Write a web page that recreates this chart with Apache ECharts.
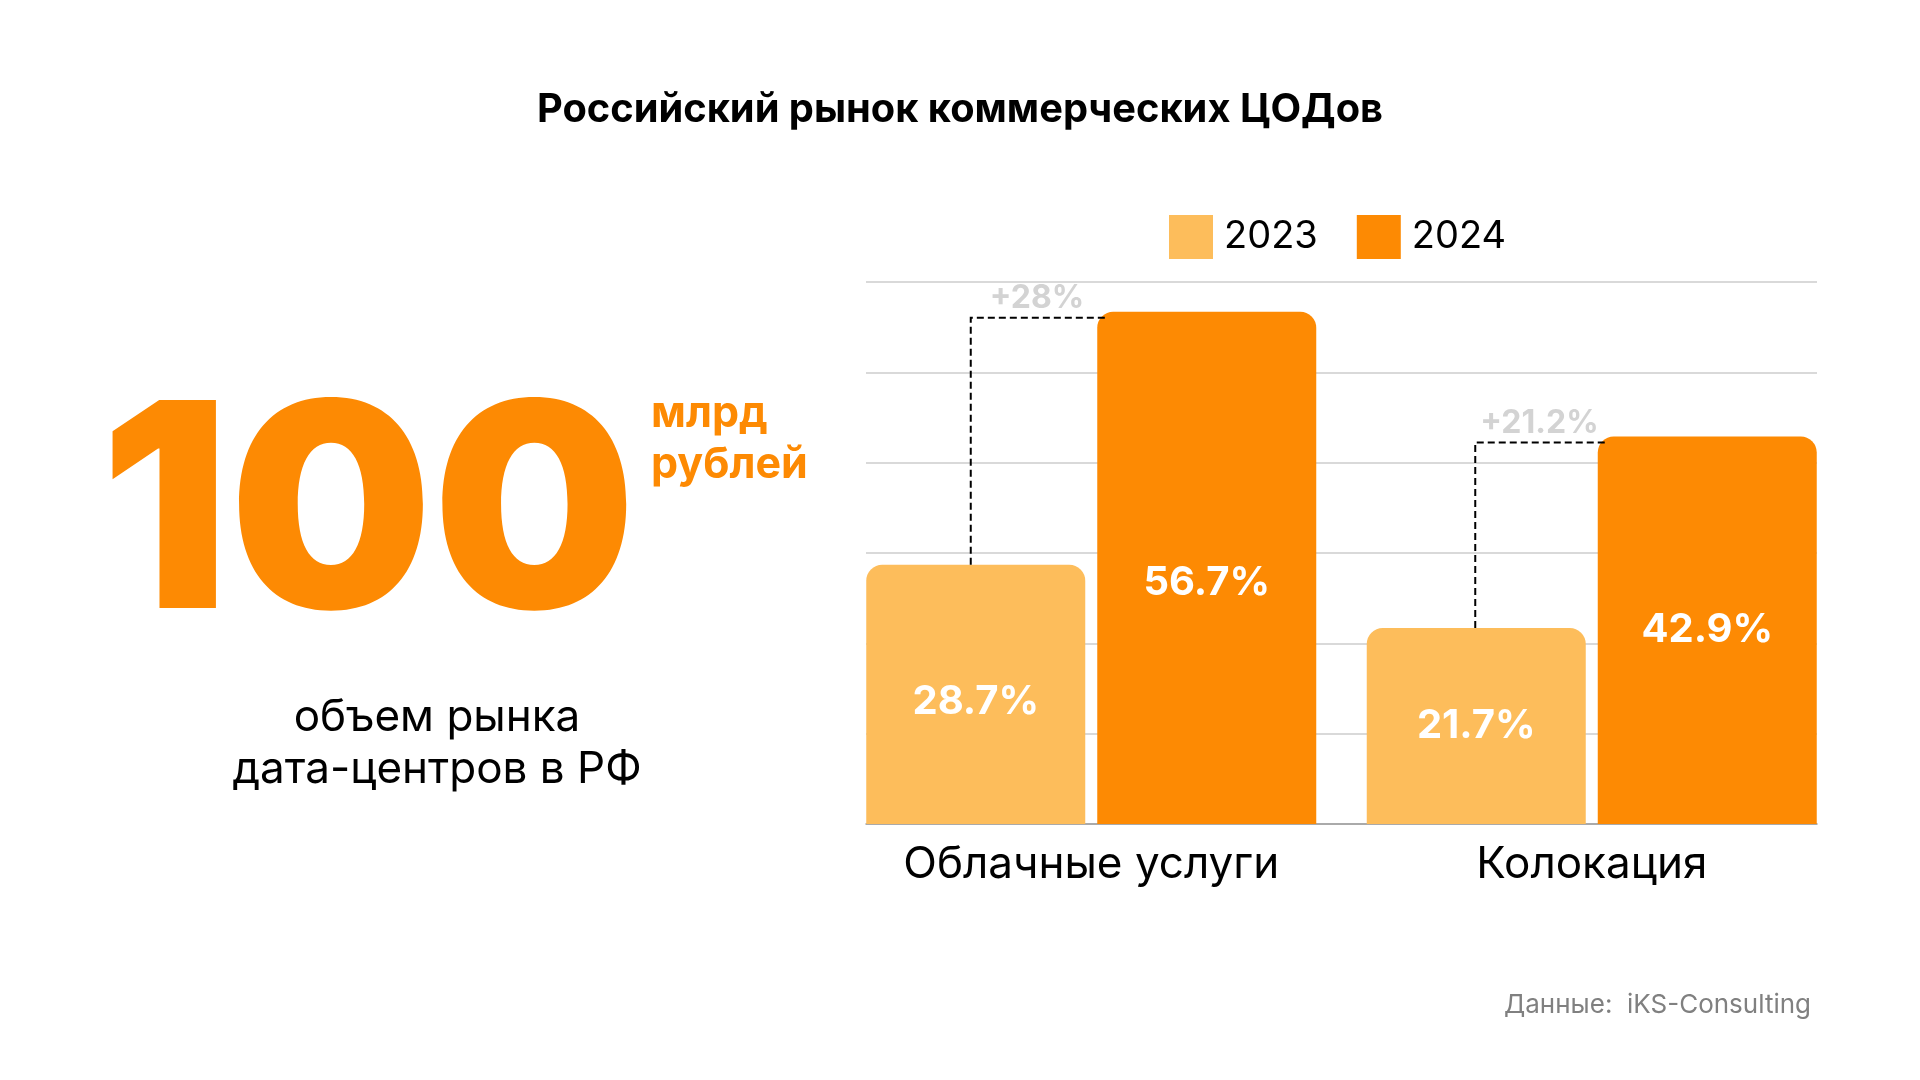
<!DOCTYPE html>
<html>
<head>
<meta charset="utf-8">
<script src="https://cdn.jsdelivr.net/npm/echarts@6/dist/echarts.min.js"></script>
<style>
html,body{margin:0;padding:0;background:#fff;}
#chart{width:1920px;height:1080px;}
</style>
</head>
<body>
<div id="chart"></div>
<script>
// ---- data ----
const categories = ['Облачные услуги', 'Колокация'];
const seriesNames = ['2023', '2024'];
const values2023 = [28.7, 21.7];
const values2024 = [56.7, 42.9];
const growthLabels = ['+28%', '+21.2%'];
const yMin = 0, yMax = 60, yInterval = 10;
const titleText = 'Российский рынок коммерческих ЦОДов';
const bigNumber = '100';
const bigUnitLines = ['млрд', 'рублей'];
const captionLines = ['объем рынка', 'дата-центров в РФ'];
const sourceText = 'Данные:  iKS-Consulting';

// ---- style ----
const FONT = 'Inter, "Noto Sans", sans-serif';
const C2023 = '#FDBD5B';
const C2024 = '#FD8A03';
const BAR_W = 219, BAR_GAP = 12;
const labelPosY = ['53%', '50%'];        // vertical label placement per category (style)
const connectorShiftX = [-5, -1];        // small horizontal shift of connector per category (style)

const chart = echarts.init(document.getElementById('chart'), null, {renderer: 'canvas'});

const connectorData = categories.map((c, i) => [i, values2023[i], values2024[i]]);

function barData(values) {
  return values.map((v, i) => ({
    value: v,
    label: {position: ['50%', labelPosY[i]], align: 'center', verticalAlign: 'middle'}
  }));
}

const labelStyle = {show: true, formatter: '{c}%', color: '#fff',
  fontFamily: FONT, fontSize: 40, fontWeight: 'bold'};

const option = {
  backgroundColor: '#ffffff',
  animation: false,
  title: {
    text: titleText,
    left: 'center',
    top: 85,
    textStyle: {fontFamily: FONT, fontSize: 39.8, fontWeight: 'bold', color: '#000'}
  },
  legend: {
    left: 1164,
    top: 210,
    itemWidth: 44,
    itemHeight: 44,
    itemGap: 39,
    icon: 'rect',
    data: seriesNames,
    textStyle: {fontFamily: FONT, fontSize: 38, color: '#000', padding: [0, 0, 0, 6]}
  },
  grid: [
    {left: 841, right: 78, top: 282, bottom: 256},
    {left: 866, right: 103, top: 282, bottom: 256}
  ],
  xAxis: [
    {
      type: 'category', gridIndex: 0, data: categories,
      axisLine: {show: false}, axisTick: {show: false},
      axisLabel: {fontFamily: FONT, fontSize: 44, color: '#000', margin: 19}
    },
    {
      type: 'category', gridIndex: 1, data: categories,
      axisLine: {show: true, lineStyle: {color: '#9a9a9a', width: 1.5}},
      axisTick: {show: false}, axisLabel: {show: false}
    }
  ],
  yAxis: [
    {
      type: 'value', gridIndex: 0, min: yMin, max: yMax, interval: yInterval,
      axisLine: {show: false}, axisTick: {show: false}, axisLabel: {show: false},
      splitLine: {show: false}
    },
    {
      type: 'value', gridIndex: 1, min: yMin, max: yMax, interval: yInterval,
      axisLine: {show: false}, axisTick: {show: false}, axisLabel: {show: false},
      splitLine: {show: true, lineStyle: {color: '#cccccc', width: 1.5}}
    }
  ],
  series: [
    {
      name: seriesNames[0], type: 'bar', xAxisIndex: 0, yAxisIndex: 0,
      data: barData(values2023), barWidth: BAR_W, barGap: (BAR_GAP / BAR_W * 100) + '%',
      itemStyle: {color: C2023, borderRadius: [16, 16, 0, 0]},
      label: labelStyle
    },
    {
      name: seriesNames[1], type: 'bar', xAxisIndex: 0, yAxisIndex: 0,
      data: barData(values2024), barWidth: BAR_W, barGap: (BAR_GAP / BAR_W * 100) + '%',
      itemStyle: {color: C2024, borderRadius: [16, 16, 0, 0]},
      label: labelStyle
    },
    {
      type: 'custom', xAxisIndex: 0, yAxisIndex: 0, z: 5,
      data: connectorData,
      silent: true,
      renderItem: function (params, api) {
        const idx = api.value(0);
        const cx = api.coord([idx, 0])[0];
        const yA = api.coord([idx, api.value(1)])[1];
        const yB = api.coord([idx, api.value(2)])[1];
        const lx = cx - (BAR_W + BAR_GAP) / 2 + connectorShiftX[idx];
        const barLeft = cx + BAR_GAP / 2;
        const hy = yB + 6;
        return {
          type: 'group',
          children: [
            {type: 'polyline', shape: {points: [[lx, yA], [lx, hy], [barLeft + 8, hy]]},
              style: {stroke: '#000', lineWidth: 2, lineDash: [7, 4], fill: null}},
            {type: 'text', style: {text: growthLabels[idx], x: (lx + barLeft) / 2 + 3, y: hy - 19,
              align: 'center', verticalAlign: 'middle', fill: '#d3d3d3',
              font: 'bold 32px ' + FONT}}
          ]
        };
      }
    }
  ],
  graphic: [
    {type: 'text', style: {text: bigNumber, x: 100, y: 522, verticalAlign: 'middle',
      fill: C2024, font: '900 286px ' + FONT}},
    {type: 'text', style: {text: bigUnitLines[0], x: 651, y: 414, verticalAlign: 'middle',
      fill: C2024, font: 'bold 43px ' + FONT}},
    {type: 'text', style: {text: bigUnitLines[1], x: 651, y: 465, verticalAlign: 'middle',
      fill: C2024, font: 'bold 43px ' + FONT}},
    {type: 'text', style: {text: captionLines[0], x: 437, y: 718, align: 'center', verticalAlign: 'middle',
      fill: '#000', font: '44px ' + FONT}},
    {type: 'text', style: {text: captionLines[1], x: 437, y: 770, align: 'center', verticalAlign: 'middle',
      fill: '#000', font: '44px ' + FONT}},
    {type: 'text', style: {text: sourceText, x: 1811, y: 1005, align: 'right', verticalAlign: 'middle',
      fill: '#808080', font: '26px ' + FONT}}
  ]
};
chart.setOption(option);
</script>
</body>
</html>
